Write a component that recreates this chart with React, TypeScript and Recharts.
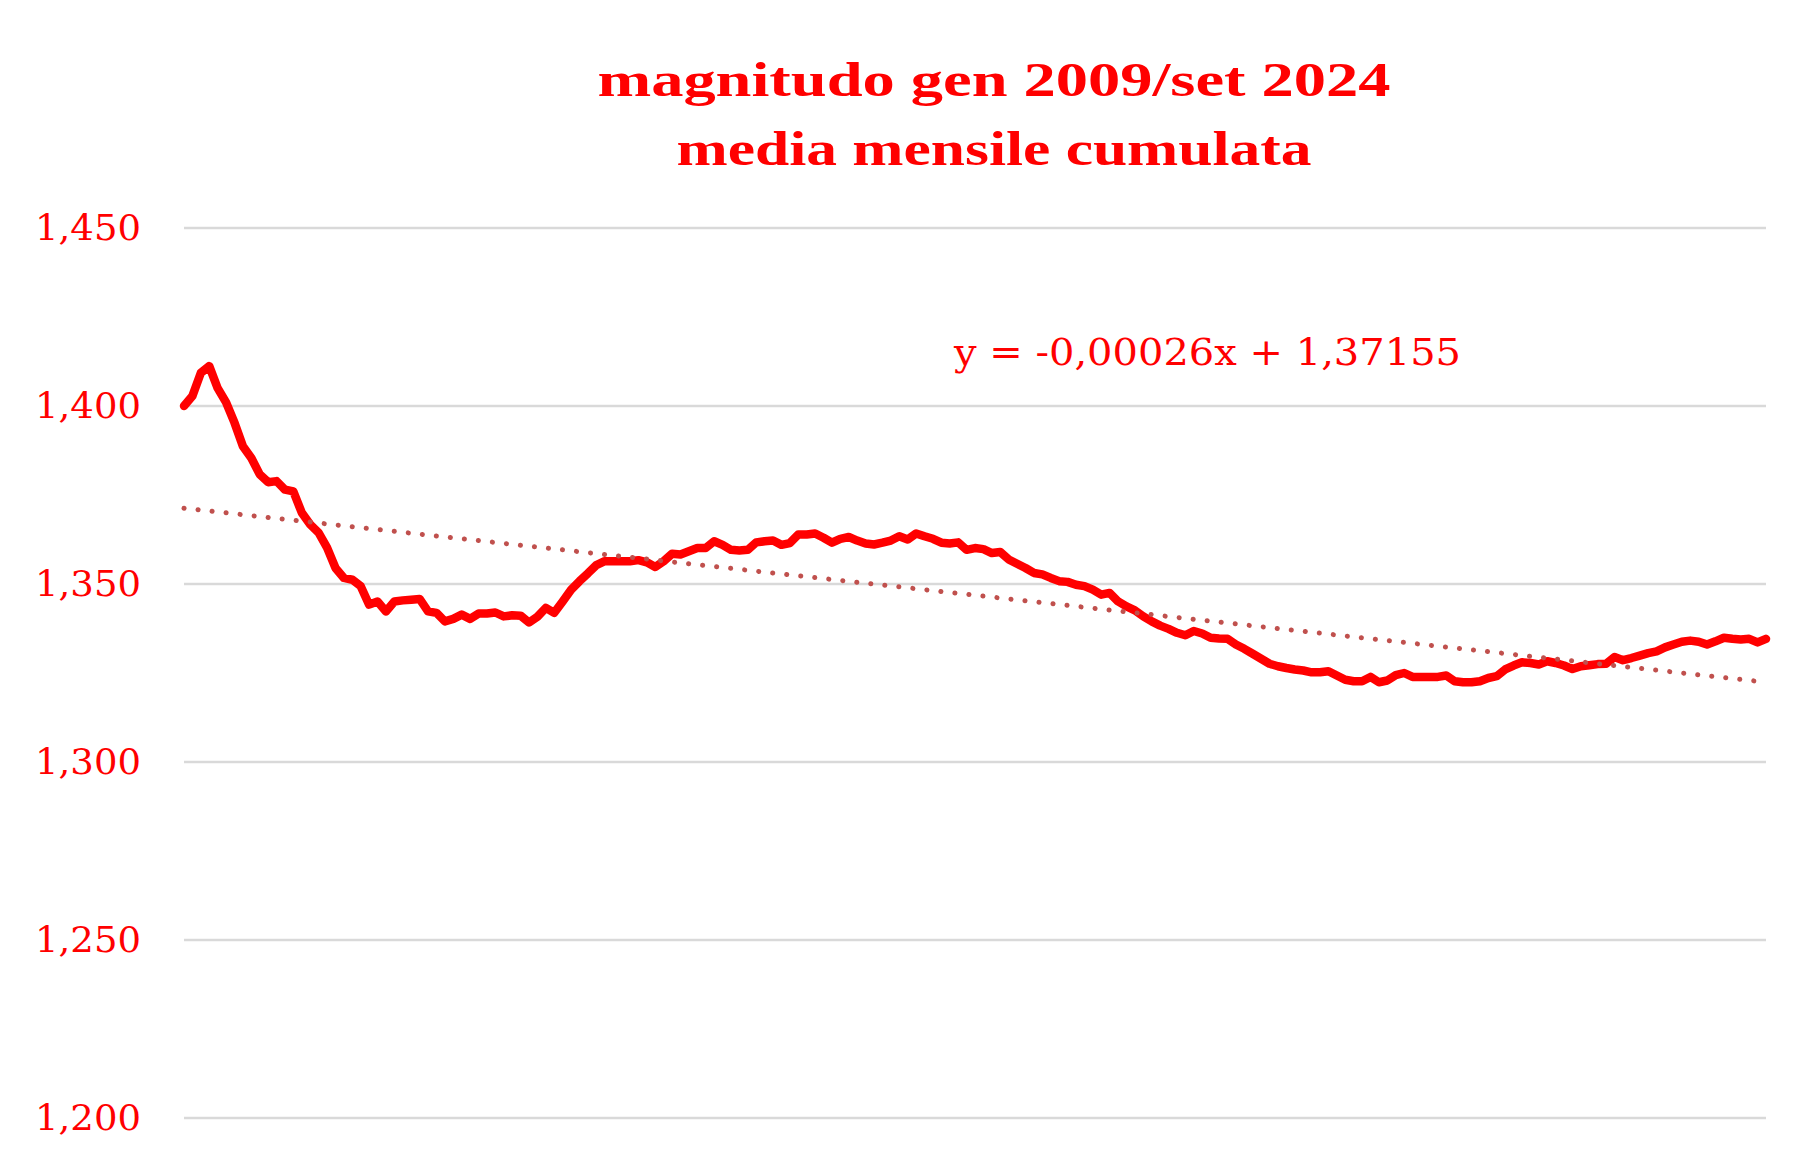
import React from "react";
import { LineChart, Line, XAxis, YAxis, CartesianGrid, ReferenceLine } from "recharts";

// media mensile cumulata della magnitudo, gen 2009 .. set 2024 (189 mesi)
const MAGNITUDO = [
  1.4, 1.4028, 1.4093, 1.4112, 1.405, 1.401, 1.3953, 1.3887, 1.3854, 1.3808, 1.3786, 1.3789,
  1.3765, 1.376, 1.37, 1.3667, 1.3644, 1.3602, 1.3545, 1.3517, 1.3512, 1.3494, 1.3442, 1.3451,
  1.3423, 1.3451, 1.3454, 1.3456, 1.3458, 1.3423, 1.3419, 1.3395, 1.3402, 1.3414, 1.3402, 1.3417,
  1.3417, 1.342, 1.3409, 1.3412, 1.3411, 1.3392, 1.3408, 1.3433, 1.3419, 1.3451, 1.3484, 1.3508,
  1.353, 1.3553, 1.3564, 1.3564, 1.3564, 1.3564, 1.3567, 1.3561, 1.3548, 1.3564, 1.3585, 1.3583,
  1.3592, 1.3601, 1.3601, 1.362, 1.361, 1.3596, 1.3594, 1.3596, 1.3617, 1.362, 1.3622, 1.361,
  1.3615, 1.3639, 1.3639, 1.3642, 1.363, 1.3616, 1.3627, 1.3632, 1.3622, 1.3614, 1.3611, 1.3616,
  1.3622, 1.3634, 1.3625, 1.3642, 1.3634, 1.3627, 1.3616, 1.3614, 1.3617, 1.3596, 1.3601, 1.3598,
  1.3587, 1.359, 1.3569, 1.3557, 1.3545, 1.3531, 1.3527, 1.3517, 1.3508, 1.3506, 1.3498, 1.3494,
  1.3484, 1.347, 1.3475, 1.3451, 1.3437, 1.3426, 1.3409, 1.3395, 1.3383, 1.3374, 1.3363, 1.3356,
  1.3368, 1.3361, 1.3349, 1.3347, 1.3346, 1.333, 1.3318, 1.3304, 1.329, 1.3276, 1.3269, 1.3264,
  1.326, 1.3257, 1.3252, 1.3252, 1.3255, 1.3243, 1.3231, 1.3227, 1.3227, 1.3239, 1.3224, 1.3229,
  1.3244, 1.325, 1.3239, 1.3239, 1.3239, 1.3239, 1.3243, 1.3227, 1.3224, 1.3224, 1.3227, 1.3236,
  1.3241, 1.326, 1.3271, 1.328, 1.3278, 1.3274, 1.3283, 1.3278, 1.3271, 1.3261, 1.3269, 1.3272,
  1.3275, 1.3276, 1.3295, 1.3286, 1.3292, 1.3299, 1.3306, 1.3311, 1.3322, 1.333, 1.3338, 1.3341,
  1.3338, 1.333, 1.3339, 1.3349, 1.3346, 1.3344, 1.3346, 1.3336, 1.3346,
];

const MESI = ["gen", "feb", "mar", "apr", "mag", "giu", "lug", "ago", "set", "ott", "nov", "dic"];
const ANNO_INIZIO = 2009;

// tendenza lineare: y = -0,00026x + 1,37155 (valori agli estremi)
const TREND = [1.37129, 1.32241];

const Y_TICKS = [1.2, 1.25, 1.3, 1.35, 1.4, 1.45];

const RED = "#FF0000";

const data = MAGNITUDO.map((v, i) => ({
  mese: `${MESI[i % 12]} ${ANNO_INIZIO + Math.floor(i / 12)}`,
  magnitudo: v,
}));

const fmt = (v: number) => v.toFixed(3).replace(".", ",");

function YTick(props: any) {
  const { x, y, payload } = props;
  return (
    <text
      x={x}
      y={y}
      dy={12}
      textAnchor="end"
      fill={RED}
      fontFamily="DejaVu Serif"
      fontSize={35}
      textLength={106}
      lengthAdjust="spacingAndGlyphs"
    >
      {fmt(payload.value)}
    </text>
  );
}

export default function App() {
  const first = data[0].mese;
  const last = data[data.length - 1].mese;

  return (
    <div style={{ position: "fixed", left: 0, top: 0, width: 1819, height: 1169, background: "#fff" }}>
      <LineChart
        width={1819}
        height={1169}
        data={data}
        margin={{ top: 228, right: 53, bottom: 51, left: 0 }}
      >
        <CartesianGrid vertical={false} stroke="#D9D9D9" strokeWidth={2.5} />
        <XAxis dataKey="mese" hide />
        <YAxis
          width={184}
          domain={[1.2, 1.45]}
          ticks={Y_TICKS}
          axisLine={false}
          tickLine={false}
          tickSize={0}
          tickMargin={43}
          tick={<YTick />}
        />
        <Line
          type="linear"
          dataKey="magnitudo"
          stroke={RED}
          strokeWidth={8.5}
          strokeLinejoin="round"
          strokeLinecap="round"
          dot={false}
          isAnimationActive={false}
        />
        <ReferenceLine
          segment={[
            { x: first, y: TREND[0] },
            { x: last, y: TREND[1] },
          ]}
          stroke="#C0504D"
          strokeWidth={5}
          strokeDasharray="0.1 14"
          strokeLinecap="round"
        />
      </LineChart>
      <svg
        width={1819}
        height={1169}
        style={{ position: "absolute", left: 0, top: 0, pointerEvents: "none" }}
      >
        <g fill={RED} fontFamily="Liberation Serif" fontWeight="bold" textAnchor="middle">
          <text x={994} y={96} fontSize={48} textLength={793} lengthAdjust="spacingAndGlyphs">
            magnitudo gen 2009/set 2024
          </text>
          <text x={994} y={165} fontSize={48} textLength={635} lengthAdjust="spacingAndGlyphs">
            media mensile cumulata
          </text>
        </g>
        <text
          x={954}
          y={365}
          fill={RED}
          fontFamily="DejaVu Serif"
          fontSize={37}
          textLength={507}
          lengthAdjust="spacingAndGlyphs"
        >
          y = -0,00026x + 1,37155
        </text>
      </svg>
    </div>
  );
}
